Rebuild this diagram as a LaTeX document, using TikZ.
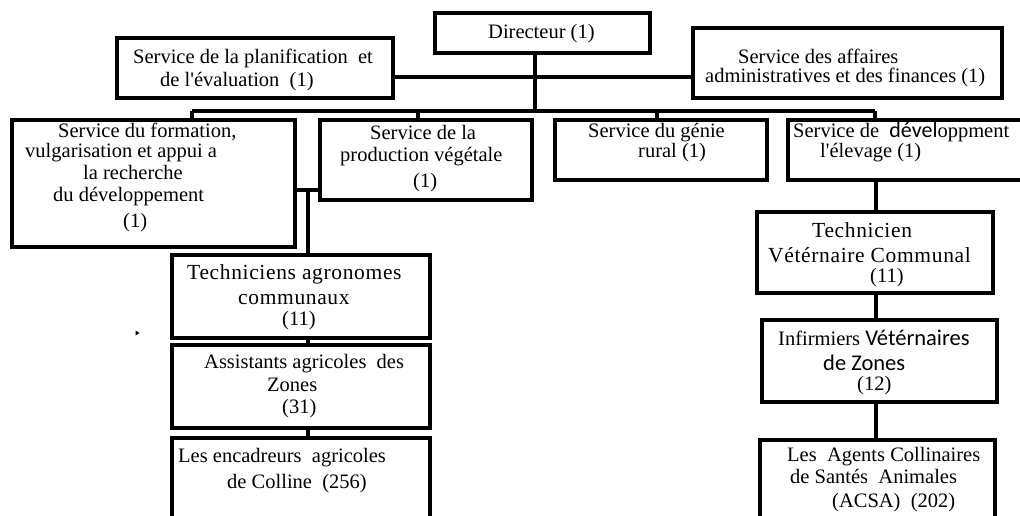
\documentclass[tikz,border=0pt]{standalone}
\usepackage{fontspec}
\setmainfont{Liberation Serif}
\newfontfamily\calfont{Carlito}
\usetikzlibrary{fit}
\begin{document}
\begin{tikzpicture}[x=1pt,y=-1pt,
  box/.style={draw, line width=3.6pt, inner sep=0pt},
  conn/.style={line width=3.6pt},
  txt/.style={anchor=base west, inner sep=0pt, font=\fontsize{20.5}{23}\selectfont},
  wide/.style={anchor=base west, inner sep=0pt, font=\fontsize{21.5}{24}\selectfont\addfontfeatures{LetterSpace=3}},
  cal/.style={anchor=base west, inner sep=0pt, font=\fontsize{22.5}{25}\calfont}]
\useasboundingbox (0,0) rectangle (1020,515);
\clip (0,0) rectangle (1020,515);

% boxes
\node[box, fit={(435,13) (650,53)}] (dir) {};
\node[box, fit={(117,38) (393,98)}] (plan) {};
\node[box, fit={(693,28) (1002,98)}] (aff) {};
\node[box, fit={(12,120) (295,247)}] (form) {};
\node[box, fit={(320,120) (532,200)}] (prod) {};
\node[box, fit={(555,120) (767,180)}] (genie) {};
\node[box, fit={(788,120) (1040,180)}] (elev) {};
\node[box, fit={(172,255) (430,338)}] (tech) {};
\node[box, fit={(172,345) (430,428)}] (asst) {};
\node[box, fit={(172,438) (430,540)}] (enc) {};
\node[box, fit={(757,212) (993,293)}] (tvc) {};
\node[box, fit={(762,320) (997,402)}] (inf) {};
\node[box, fit={(760,440) (995,540)}] (acsa) {};

% connector junctions
\coordinate (busL) at (192,111);
\coordinate (busR) at (875,111);
\coordinate (dirdrop) at (535,111);
\coordinate (staff) at (535,77);
\coordinate (prodrop) at (418,111);
\coordinate (gendrop) at (657,111);
\coordinate (fp) at (308,190);
\coordinate (vx) at (876,0);

% connectors
\draw[conn] (dir.south -| dirdrop) -- (dirdrop);
\draw[conn] (plan.east |- staff) -- (aff.west |- staff);
\draw[conn] (busL) -- (busR);
\draw[conn] (busL) -- (busL |- form.north);
\draw[conn] (prodrop) -- (prodrop |- prod.north);
\draw[conn] (gendrop) -- (gendrop |- genie.north);
\draw[conn] (busR) -- (busR |- elev.north);
\draw[conn] (form.east |- fp) -- (prod.west |- fp);
\draw[conn] (fp) -- (fp |- tech.north);
\draw[conn] (fp |- tech.south) -- (fp |- asst.north);
\draw[conn] (fp |- asst.south) -- (fp |- enc.north);
\draw[conn] (vx |- elev.south) -- (vx |- tvc.north);
\draw[conn] (vx |- tvc.south) -- (vx |- inf.north);
\draw[conn] (vx |- inf.south) -- (vx |- acsa.north);

% stray mark
\fill (135.5,330.5) -- (139.5,333) -- (135.5,335.5) -- cycle;

% labels
\node[txt] (dir-t) at (488,38) {Directeur (1)};

\node[txt] (plan-t1) at (133,63) {Service de la planification\ \ et};
\node[txt] (plan-t2) at (160,86) {de l\textquotesingle évaluation\ \ (1)};

\node[txt] (aff-t1) at (738,63) {Service des affaires};
\node[txt] (aff-t2) at (705,82) {administratives et des finances (1)};

\node[txt] (form-t1) at (58,137) {Service du formation,};
\node[txt] (form-t2) at (25,157) {vulgarisation et appui a};
\node[txt] (form-t3) at (83,179) {la recherche};
\node[txt] (form-t4) at (53,201) {du développement};
\node[txt] (form-t5) at (123,227) {(1)};

\node[txt] (prod-t1) at (370,139) {Service de la};
\node[txt] (prod-t2) at (340,161) {production végétale};
\node[txt] (prod-t3) at (413,187) {(1)};

\node[txt] (genie-t1) at (588,137) {Service du génie};
\node[txt] (genie-t2) at (638,157) {rural (1)};

\node[txt] (elev-t1) at (793,137) {Service de\ \ {\fontsize{22}{25}\calfont dével}oppment};
\node[txt] (elev-t2) at (820,157) {l\textquotesingle élevage (1)};

\node[wide] (tech-t1) at (187,279) {Techniciens agronomes};
\node[wide] (tech-t2) at (238,304) {communaux};
\node[txt] (tech-t3) at (282,325) {(11)};

\node[txt] (asst-t1) at (204,368) {Assistants agricoles\ \ des};
\node[txt] (asst-t2) at (267,391) {Zones};
\node[txt] (asst-t3) at (282,413) {(31)};

\node[txt] (enc-t1) at (178,462) {Les encadreurs\ \ agricoles};
\node[txt] (enc-t2) at (227,488) {de Colline\ \ (256)};

\node[wide] (tvc-t1) at (812,237) {Technicien};
\node[wide] (tvc-t2) at (768,262) {Vétérnaire Communal};
\node[txt] (tvc-t3) at (870,282) {(11)};

\node[txt] (inf-t1) at (778,345) {Infirmiers {\fontsize{22.5}{25}\calfont Vétérnaires}};
\node[cal] (inf-t2) at (823,370) {de Zones};
\node[txt] (inf-t3) at (857,390) {(12)};

\node[txt] (acsa-t1) at (787,461) {Les\ \ Agents Collinaires};
\node[txt] (acsa-t2) at (790,483) {de Santés\ \ Animales};
\node[txt] (acsa-t3) at (832,507) {(ACSA)\ \ (202)};
\end{tikzpicture}
\end{document}
